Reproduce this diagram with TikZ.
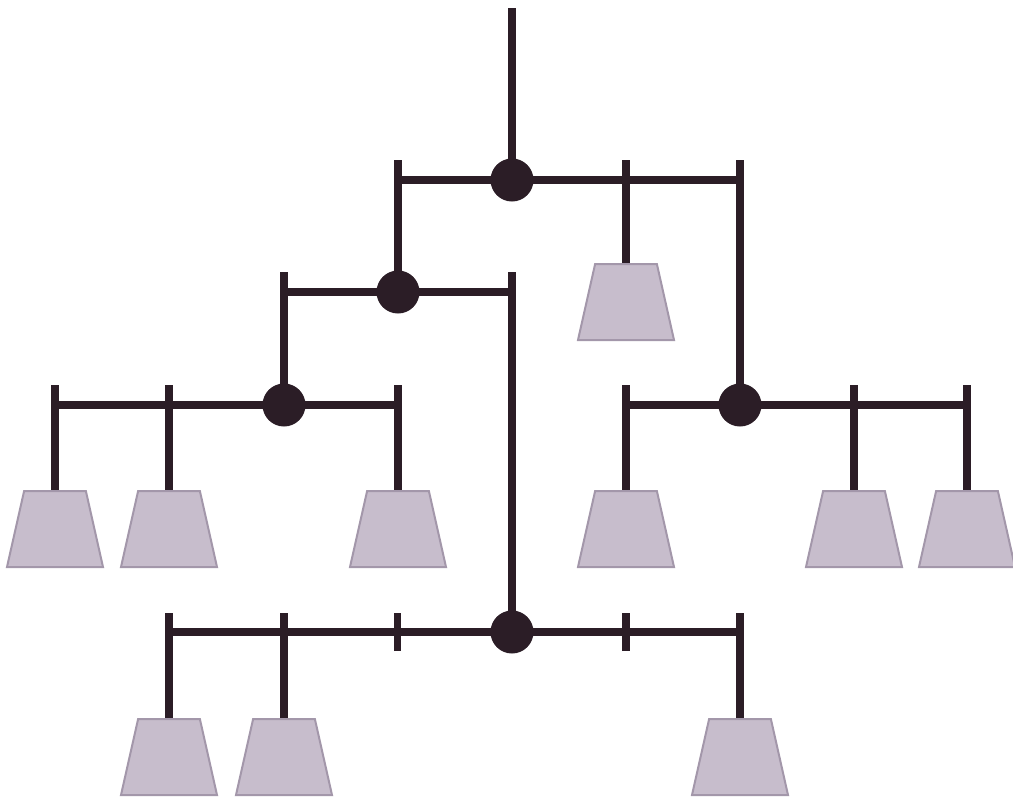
\documentclass[tikz,border=0pt]{standalone}
\usetikzlibrary{shapes.geometric,positioning,calc}
\definecolor{wirecol}{HTML}{2B1D26}
\definecolor{lampfill}{HTML}{C7BDCC}
\definecolor{lampdraw}{HTML}{A397AA}

\begin{document}
\begin{tikzpicture}[
    x=1pt, y=-1pt,
    joint/.style={circle, fill=wirecol, inner sep=0pt, outer sep=-2.5pt, minimum size=43pt},
    lamp/.style={trapezium, trapezium angle=74.5, trapezium stretches=true, minimum width=96pt, minimum height=76pt, inner sep=2pt, fill=lampfill, draw=lampdraw, line width=2pt, anchor=north},
    wire/.style={draw=wirecol, line width=7.5pt}
]
\useasboundingbox (0,0) rectangle (1013,798);

% Joints
\node[joint] (j1) at (512,180) {};
\node[joint] (j2) at (398,292) {};
\node[joint] (j3) at (284,405) {};
\node[joint] (j4) at (740,405) {};
\node[joint] (j5) at (512,632) {};

% Lamps
\node[lamp] (lampa) at (626,263) {};
\node[lamp] (lampb) at (55,490) {};
\node[lamp] (lampc) at (169,490) {};
\node[lamp] (lampd) at (398,490) {};
\node[lamp] (lampe) at (626,490) {};
\node[lamp] (lampf) at (854,490) {};
\node[lamp] (lampg) at (967,490) {};
\node[lamp] (lamph) at (169,718) {};
\node[lamp] (lampi) at (284,718) {};
\node[lamp] (lampj) at (740,718) {};

% Bar ends and tick tops
\coordinate (feed) at (512,8);
\coordinate (bara) at (398,180);
\coordinate (barb) at (740,180);
\coordinate (ticka) at (398,160);
\coordinate (tickb) at (626,160);
\coordinate (tickc) at (740,160);
\coordinate (barc) at (284,292);
\coordinate (bard) at (512,292);
\coordinate (tickd) at (284,272);
\coordinate (ticke) at (512,272);
\coordinate (bare) at (55,405);
\coordinate (barf) at (398,405);
\coordinate (tickf) at (55,385);
\coordinate (tickg) at (169,385);
\coordinate (tickh) at (398,385);
\coordinate (barg) at (626,405);
\coordinate (barh) at (967,405);
\coordinate (ticki) at (626,385);
\coordinate (tickj) at (854,385);
\coordinate (tickk) at (967,385);
\coordinate (bari) at (169,632);
\coordinate (barj) at (740,632);
\coordinate (tickl) at (169,613);
\coordinate (tickm) at (284,613);
\coordinate (tickn) at (740,613);

% Top level
\draw[wire] (feed) -- (j1);
\draw[wire] (bara) -- (j1) -- (barb);
\draw[wire] (ticka) -- (j2);
\draw[wire] (tickb) -- (lampa);
\draw[wire] (tickc) -- (j4);

% Second level
\draw[wire] (barc) -- (j2) -- (bard);
\draw[wire] (tickd) -- (j3);
\draw[wire] (ticke) -- (j5);

% Left group
\draw[wire] (bare) -- (j3) -- (barf);
\draw[wire] (tickf) -- (lampb);
\draw[wire] (tickg) -- (lampc);
\draw[wire] (tickh) -- (lampd);

% Right group
\draw[wire] (barg) -- (j4) -- (barh);
\draw[wire] (ticki) -- (lampe);
\draw[wire] (tickj) -- (lampf);
\draw[wire] (tickk) -- (lampg);

% Bottom group
\draw[wire] (bari) -- (j5) -- (barj);
\draw[wire] (tickl) -- (lamph);
\draw[wire] (tickm) -- (lampi);
\draw[wire] (tickn) -- (lampj);
\draw[wire] ([yshift=-19pt]$(bari)!0.4!(barj)$) -- ([yshift=19pt]$(bari)!0.4!(barj)$);
\draw[wire] ([yshift=-19pt]$(bari)!0.8!(barj)$) -- ([yshift=19pt]$(bari)!0.8!(barj)$);

\end{tikzpicture}
\end{document}
